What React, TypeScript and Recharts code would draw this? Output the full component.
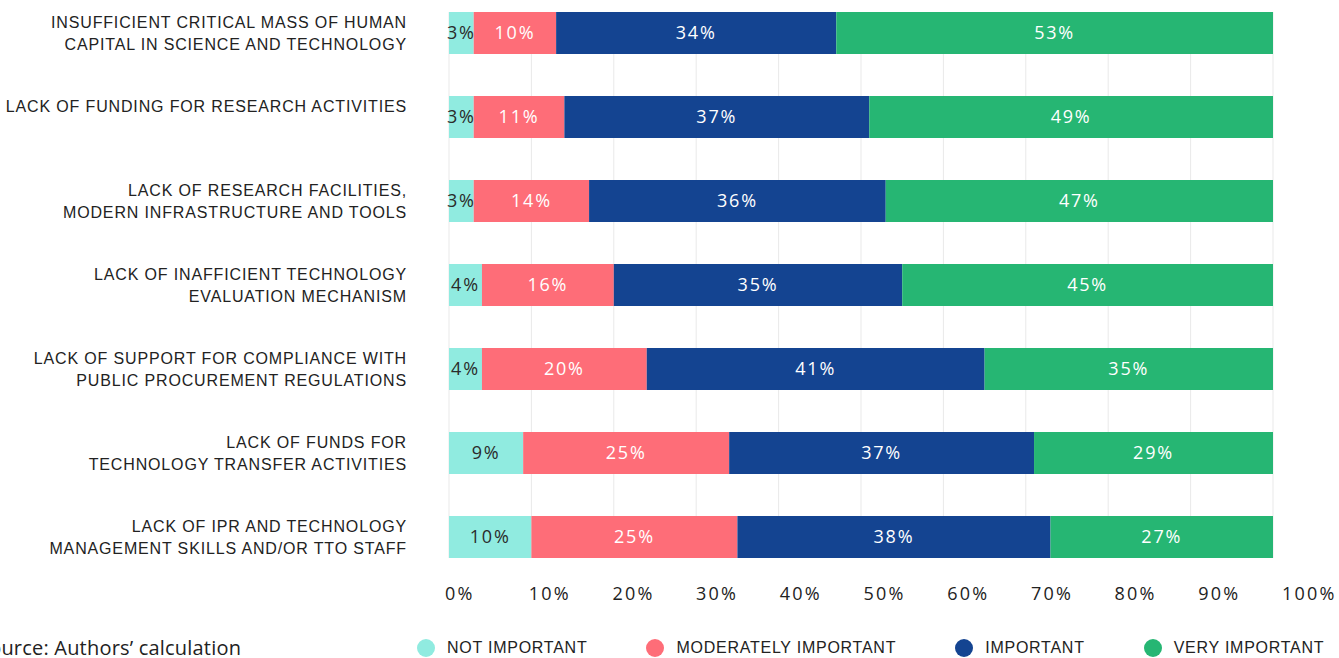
import { BarChart, Bar, XAxis, YAxis, CartesianGrid, LabelList } from 'recharts'

// survey answers, share of respondents (%)
const categories = [
  'INSUFFICIENT CRITICAL MASS OF HUMAN\nCAPITAL IN SCIENCE AND TECHNOLOGY',
  'LACK OF FUNDING FOR RESEARCH ACTIVITIES',
  'LACK OF RESEARCH FACILITIES,\nMODERN INFRASTRUCTURE AND TOOLS',
  'LACK OF INAFFICIENT TECHNOLOGY\nEVALUATION MECHANISM',
  'LACK OF SUPPORT FOR COMPLIANCE WITH\nPUBLIC PROCUREMENT REGULATIONS',
  'LACK OF FUNDS FOR\nTECHNOLOGY TRANSFER ACTIVITIES',
  'LACK OF IPR AND TECHNOLOGY\nMANAGEMENT SKILLS AND/OR TTO STAFF',
]
const notImportant = [3, 3, 3, 4, 4, 9, 10]
const moderatelyImportant = [10, 11, 14, 16, 20, 25, 25]
const important = [34, 37, 36, 35, 41, 37, 38]
const veryImportant = [53, 49, 47, 45, 35, 29, 27]
const xTicks = [0, 10, 20, 30, 40, 50, 60, 70, 80, 90, 100]

const SERIES = [
  { key: 'notImportant', name: 'NOT IMPORTANT', color: '#90EBE0', text: '#2b2b2b' },
  { key: 'moderatelyImportant', name: 'MODERATELY IMPORTANT', color: '#FE6D78', text: '#ffffff' },
  { key: 'important', name: 'IMPORTANT', color: '#144491', text: '#ffffff' },
  { key: 'veryImportant', name: 'VERY IMPORTANT', color: '#26B673', text: '#ffffff' },
]

const data = categories.map((name, i) => ({
  name,
  notImportant: notImportant[i],
  moderatelyImportant: moderatelyImportant[i],
  important: important[i],
  veryImportant: veryImportant[i],
}))

const LABEL_FONT = '"Liberation Sans", Arial, sans-serif'
const NUM_FONT = '"Open Sans", sans-serif'
const INK = '#222222'

function CategoryTick({ x, y, payload }: any) {
  const lines = String(payload.value).split('\n')
  return (
    <text
      x={x - 34}
      y={y - 11}
      textAnchor="end"
      dominantBaseline="central"
      fontFamily={LABEL_FONT}
      fontSize={16}
      letterSpacing={0.85}
      fill={INK}
    >
      {lines.map((line, i) => (
        <tspan key={i} x={x - 34} dy={i === 0 ? 0 : 22}>
          {line}
        </tspan>
      ))}
    </text>
  )
}

// tick text sits just right of its grid line, drifting slightly outward toward 100%
function PercentTick({ x, y, payload }: any) {
  return (
    <text
      x={x - 4 + payload.value * 0.13}
      y={y + 27}
      textAnchor="start"
      dominantBaseline="central"
      fontFamily={NUM_FONT}
      fontSize={18}
      letterSpacing={2.2}
      fill={INK}
    >
      {payload.value}%
    </text>
  )
}

function LegendRow() {
  return (
    <div
      style={{
        position: 'absolute',
        left: 0,
        top: 636,
        width: 1339,
        height: 24,
        fontFamily: LABEL_FONT,
        color: INK,
      }}
    >
      <span style={{ position: 'absolute', left: -22, top: -2, fontSize: 20, letterSpacing: 0.2, fontFamily: NUM_FONT, whiteSpace: 'nowrap' }}>
        Source: Authors’ calculation
      </span>
      <div style={{ position: 'absolute', left: 417, top: 3, display: 'flex', gap: 59, whiteSpace: 'nowrap' }}>
        {SERIES.map(s => (
          <div key={s.key} style={{ display: 'flex', alignItems: 'center' }}>
            <span style={{ width: 18, height: 18, borderRadius: '50%', background: s.color, display: 'inline-block' }} />
            <span style={{ marginLeft: 12, fontSize: 16, letterSpacing: 0.75 }}>{s.name}</span>
          </div>
        ))}
      </div>
    </div>
  )
}

export default function App() {
  return (
    <div style={{ position: 'absolute', left: 0, top: 0, width: 1339, height: 658, overflow: 'hidden', background: '#fff' }}>
      <BarChart
        width={1339}
        height={658}
        data={data}
        layout="vertical"
        margin={{ top: 12, right: 66, bottom: 60, left: 0 }}
      >
        <CartesianGrid horizontal={false} stroke="#e9e9e9" strokeWidth={1} />
        <XAxis
          type="number"
          domain={[0, 100]}
          ticks={xTicks}
          axisLine={false}
          tickLine={false}
          height={40}
          tick={<PercentTick />}
          interval={0}
        />
        <YAxis
          type="category"
          dataKey="name"
          width={449}
          axisLine={false}
          tickLine={false}
          padding={{ top: -21, bottom: -21 }}
          tick={<CategoryTick />}
          interval={0}
        />
        {SERIES.map(s => (
          <Bar key={s.key} dataKey={s.key} name={s.name} stackId="a" fill={s.color} barSize={42} isAnimationActive={false}>
            <LabelList
              dataKey={s.key}
              position="center"
              formatter={(v: any) => `${v}%`}
              fill={s.text}
              fontFamily={NUM_FONT}
              fontSize={18}
              letterSpacing={1.8}
            />
          </Bar>
        ))}
      </BarChart>
      <LegendRow />
    </div>
  )
}
